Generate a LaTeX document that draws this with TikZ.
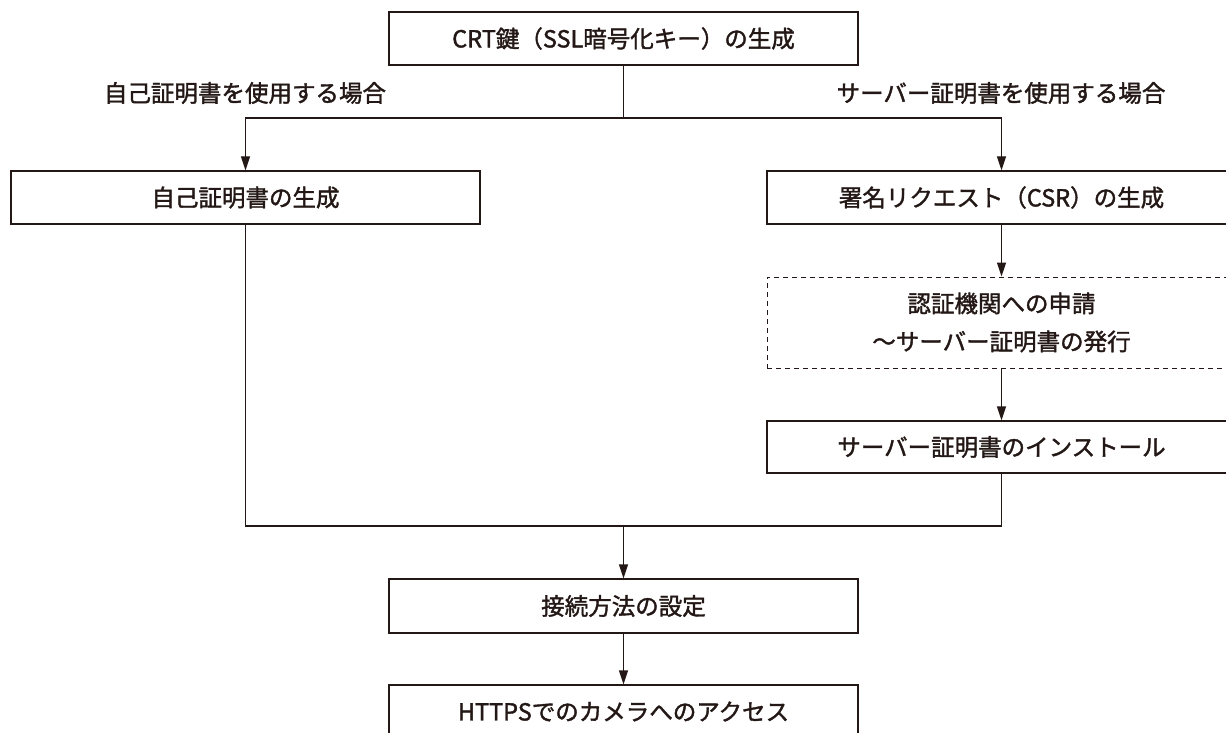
\documentclass[tikz,border=0pt]{standalone}
\usepackage{fontspec}
\newfontfamily\jpfont[FakeBold=1.6]{Noto Sans CJK JP}
\usetikzlibrary{arrows.meta}
\definecolor{ink}{HTML}{231815}
\tikzset{
  box/.style={draw=ink, line width=1.3pt, rectangle, minimum width=469pt, minimum height=53pt, inner sep=0pt, text=ink, font=\jpfont\fontsize{23.5}{38}\selectfont, align=center},
  dbox/.style={box, dash pattern=on 5pt off 4pt, line width=1pt},
  lbl/.style={text=ink, font=\jpfont\fontsize{23.5}{28}\selectfont, inner sep=0pt},
  conn/.style={draw=ink, line width=1.3pt},
  arr/.style={conn, -{Triangle[length=14pt,width=9pt]}}
}
\begin{document}
\begin{tikzpicture}[x=1pt,y=-1pt]
\useasboundingbox (0,0) rectangle (1226,733);
\node[box] (crt) at (623.5,38.5) {CRT鍵（SSL暗号化キー）の生成};
\node[lbl] (lself) at (245,93) {自己証明書を使用する場合};
\node[lbl] (lsrv) at (1001,93) {サーバー証明書を使用する場合};
\node[box] (self) at (245.5,197.5) {自己証明書の生成};
\node[box] (csr) at (1001.5,197.5) {署名リクエスト（CSR）の生成};
\node[dbox, minimum height=91pt] (ca) at (1001.5,322.5) {認証機関への申請\\～サーバー証明書の発行};
\node[box, minimum height=52pt] (inst) at (1001.5,447) {サーバー証明書のインストール};
\node[box, minimum height=54pt] (set) at (623.5,606) {接続方法の設定};
\node[box] (https) at (623.5,711.5) {HTTPSでのカメラへのアクセス};
\coordinate (j1) at (623.5,118);
\coordinate (j2) at (623.5,526);
\draw[conn] (crt.south) -- (j1);
\draw[arr] (j1) -| (self.north);
\draw[arr] (j1) -| (csr.north);
\draw[arr] (csr.south) -- (ca.north);
\draw[arr] (ca.south) -- (inst.north);
\draw[conn] (self.south) |- (j2);
\draw[conn] (inst.south) |- (j2);
\draw[arr] (j2) -- (set.north);
\draw[arr] (set.south) -- (https.north);
\end{tikzpicture}
\end{document}
